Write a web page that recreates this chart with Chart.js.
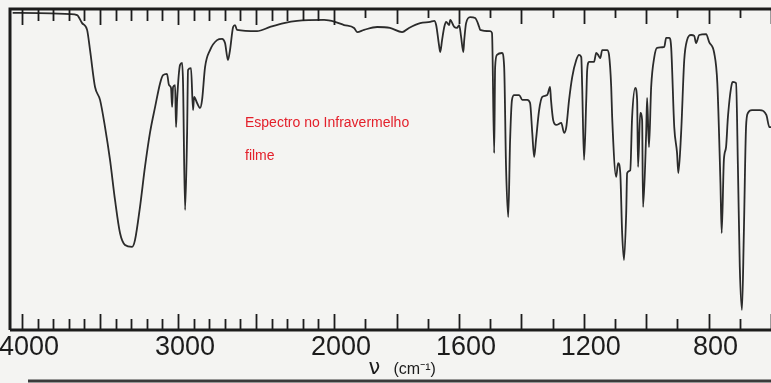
<!DOCTYPE html>
<html>
<head>
<meta charset="utf-8">
<script src="https://cdn.jsdelivr.net/npm/chart.js@4.4.0/dist/chart.umd.min.js"></script>
<style>
  html, body { margin: 0; padding: 0; background: #f4f4f2; }
  #wrap { width: 771px; height: 383px; }
</style>
</head>
<body>
<div id="wrap"><canvas id="irChart"></canvas></div>
<script>
const wavenumbers = [
  4060, 4013, 3692, 3647, 3615, 3583, 3564, 3532, 3500, 3468,
  3436, 3404, 3372, 3340, 3295, 3276, 3244, 3212, 3180, 3147,
  3115, 3096, 3071, 3058, 3045, 3038, 3032, 3019, 3013, 3006,
  2987, 2974, 2968, 2955, 2942, 2936, 2917, 2904, 2897, 2878,
  2859, 2846, 2827, 2795, 2750, 2718, 2699, 2680, 2667, 2647,
  2635, 2622, 2494, 2410, 2321, 2237, 2064, 1997, 1968, 1936,
  1926, 1904, 1862, 1821, 1782, 1760, 1724, 1692, 1679, 1673,
  1663, 1660, 1654, 1647, 1641, 1631, 1628, 1615, 1606, 1599,
  1593, 1586, 1583, 1577, 1564, 1548, 1535, 1532, 1500, 1494,
  1487, 1484, 1478, 1462, 1455, 1449, 1442, 1436, 1430, 1423,
  1407, 1397, 1381, 1372, 1365, 1359, 1353, 1343, 1333, 1317,
  1308, 1305, 1298, 1288, 1272, 1263, 1256, 1247, 1237, 1224,
  1215, 1208, 1205, 1199, 1192, 1189, 1183, 1167, 1160, 1154,
  1147, 1141, 1125, 1119, 1112, 1109, 1096, 1090, 1083, 1077,
  1071, 1064, 1061, 1051, 1045, 1035, 1029, 1026, 1019, 1013,
  1010, 1000, 997, 991, 984, 974, 965, 942, 936, 926,
  920, 910, 901, 897, 888, 878, 869, 856, 846, 840,
  830, 808, 798, 782, 772, 762, 758, 751, 744, 738,
  725, 722, 712, 706, 700, 693, 687, 680, 674, 661,
  636, 615, 605, 599
];
const transmittance = [
  98.8, 98.8, 98.4, 98.1, 95.6, 93.5, 87.2, 75.7, 71.7, 63.2,
  53.0, 40.5, 30.2, 26.5, 25.9, 28.0, 38.3, 50.8, 61.4, 69.5,
  76.9, 79.4, 79.8, 76.3, 75.4, 69.5, 75.7, 76.3, 63.2, 71.7,
  82.6, 83.2, 76.9, 37.4, 61.4, 81.0, 81.6, 68.5, 72.6, 70.7,
  69.2, 71.7, 81.9, 87.2, 90.3, 90.7, 89.4, 84.1, 87.2, 94.4,
  95.0, 93.5, 93.1, 94.4, 95.6, 96.3, 96.6, 96.0, 95.0, 94.1,
  92.8, 93.5, 94.4, 94.1, 92.8, 94.1, 95.6, 96.0, 96.3, 95.0,
  88.2, 86.6, 90.3, 94.4, 96.0, 95.0, 96.6, 94.4, 94.1, 95.0,
  91.3, 86.6, 90.3, 95.6, 97.5, 97.2, 94.4, 93.5, 93.1, 92.5,
  55.1, 81.9, 85.7, 86.3, 81.9, 50.8, 35.2, 59.2, 71.7, 73.2,
  73.2, 71.7, 71.7, 70.7, 61.4, 53.9, 59.2, 68.5, 72.6, 73.2,
  75.7, 71.7, 65.4, 63.9, 64.5, 61.4, 63.2, 71.7, 78.8, 84.1,
  85.7, 85.0, 75.7, 53.0, 71.7, 81.0, 83.5, 83.5, 86.3, 85.7,
  84.7, 87.2, 87.2, 85.7, 75.7, 66.4, 47.7, 52.0, 48.9, 30.2,
  21.8, 36.4, 48.9, 49.8, 66.4, 75.4, 71.7, 50.8, 67.6, 65.4,
  38.3, 61.4, 72.3, 57.0, 75.7, 85.0, 87.9, 88.2, 91.0, 91.0,
  88.2, 63.2, 55.1, 48.9, 61.4, 84.1, 90.3, 91.9, 91.6, 89.4,
  91.9, 92.2, 89.7, 86.3, 76.9, 45.8, 30.2, 53.0, 57.0, 66.4,
  76.9, 77.3, 76.9, 50.8, 19.6, 6.2, 30.2, 63.2, 67.6, 68.5,
  68.5, 67.0, 63.2, 63.2
];

const tickWavenumbers = [4000, 3000, 2000, 1600, 1200, 800];
const tickLabels = ['4000', '3000', '2000', '1600', '1200', '800'];
const axisSymbol = 'ν';
const axisUnit = '(cm⁻¹)';
const noteLines = ['Espectro no Infravermelho', 'filme'];

// escala do papel: 4000-2000 comprimida, abaixo de 2000 o dobro
function xPos(wn) {
  return wn >= 2000 ? (4000 - wn) / 100 : 20 + (2000 - wn) / 50;
}

const points = wavenumbers.map((w, i) => ({ x: xPos(w), y: transmittance[i] }));

const paperPlugin = {
  id: 'paper',
  beforeDraw(chart) {
    const ctx = chart.ctx;
    ctx.save();
    ctx.fillStyle = '#f4f4f2';
    ctx.fillRect(0, 0, chart.width, chart.height);
    ctx.restore();
  },
  afterDraw(chart) {
    const ctx = chart.ctx;
    const a = chart.chartArea;
    const xs = chart.scales.x;
    ctx.save();
    ctx.strokeStyle = '#1c1c1c';
    ctx.lineCap = 'butt';

    // moldura
    ctx.lineWidth = 3;
    ctx.beginPath();
    ctx.moveTo(a.left, a.bottom);
    ctx.lineTo(a.left, a.top);
    ctx.lineTo(a.right, a.top);
    ctx.moveTo(a.left, a.bottom);
    ctx.lineTo(a.right, a.bottom);
    ctx.stroke();

    // marcas para dentro, a cada 100 cm-1
    ctx.lineWidth = 1.8;
    ctx.beginPath();
    for (let w = 4000; w >= 600; w -= 100) {
      const px = Math.round(xs.getPixelForValue(xPos(w))) + 0.5;
      const major = w >= 2000 ? w % 500 === 0 : w % 200 === 0;
      const lenBottom = major ? 16 : 11;
      const lenTop = w >= 2000 ? (major ? 16 : 12) : (major ? 15 : 9);
      ctx.moveTo(px, a.bottom);
      ctx.lineTo(px, a.bottom - lenBottom);
      ctx.moveTo(px, a.top);
      ctx.lineTo(px, a.top + lenTop);
    }
    ctx.stroke();

    // titulo do eixo
    const tx = xs.getPixelForValue(xPos(1800));
    ctx.fillStyle = '#1c1c1c';
    ctx.textBaseline = 'alphabetic';
    ctx.textAlign = 'left';
    ctx.font = '21px "DejaVu Sans", sans-serif';
    ctx.fillText(axisSymbol, tx - 28, 374);
    ctx.font = '16px "Liberation Sans", Arial, sans-serif';
    ctx.fillText(axisUnit, tx - 3, 374);

    // anotacao em vermelho
    ctx.fillStyle = '#e3202b';
    ctx.font = '14px "Liberation Sans", Arial, sans-serif';
    ctx.fillText(noteLines[0], 245, 127);
    ctx.fillText(noteLines[1], 245, 160);

    // borda escura da digitalizacao
    ctx.strokeStyle = '#3a3a3a';
    ctx.lineWidth = 3;
    ctx.beginPath();
    ctx.moveTo(28, 381);
    ctx.lineTo(chart.width, 381);
    ctx.stroke();
    ctx.restore();
  }
};

const ctx = document.getElementById('irChart').getContext('2d');
new Chart(ctx, {
  type: 'line',
  data: {
    datasets: [{
      data: points,
      borderColor: '#2b2b2b',
      borderWidth: 1.8,
      pointRadius: 0,
      fill: false,
      cubicInterpolationMode: 'monotone'
    }]
  },
  options: {
    responsive: true,
    maintainAspectRatio: false,
    animation: false,
    layout: { padding: { left: 10, top: 9, right: 0, bottom: 0 } },
    scales: {
      x: {
        type: 'linear',
        min: xPos(4077),
        max: xPos(600),
        grid: { display: false },
        border: { display: false },
        afterBuildTicks(scale) {
          scale.ticks = tickWavenumbers.map(w => ({ value: xPos(w) }));
        },
        afterFit(scale) {
          scale.height = 53;
          scale.paddingLeft = 0;
          scale.paddingRight = 0;
        },
        ticks: {
          autoSkip: false,
          maxRotation: 0,
          padding: -7,
          labelOffset: 7,
          color: '#1c1c1c',
          font: { family: '"Liberation Sans", Arial, sans-serif', size: 27 },
          callback: (value, index) => tickLabels[index]
        }
      },
      y: {
        display: false,
        min: 0,
        max: 100
      }
    },
    plugins: {
      legend: { display: false },
      tooltip: { enabled: false }
    }
  },
  plugins: [paperPlugin]
});
</script>
</body>
</html>
